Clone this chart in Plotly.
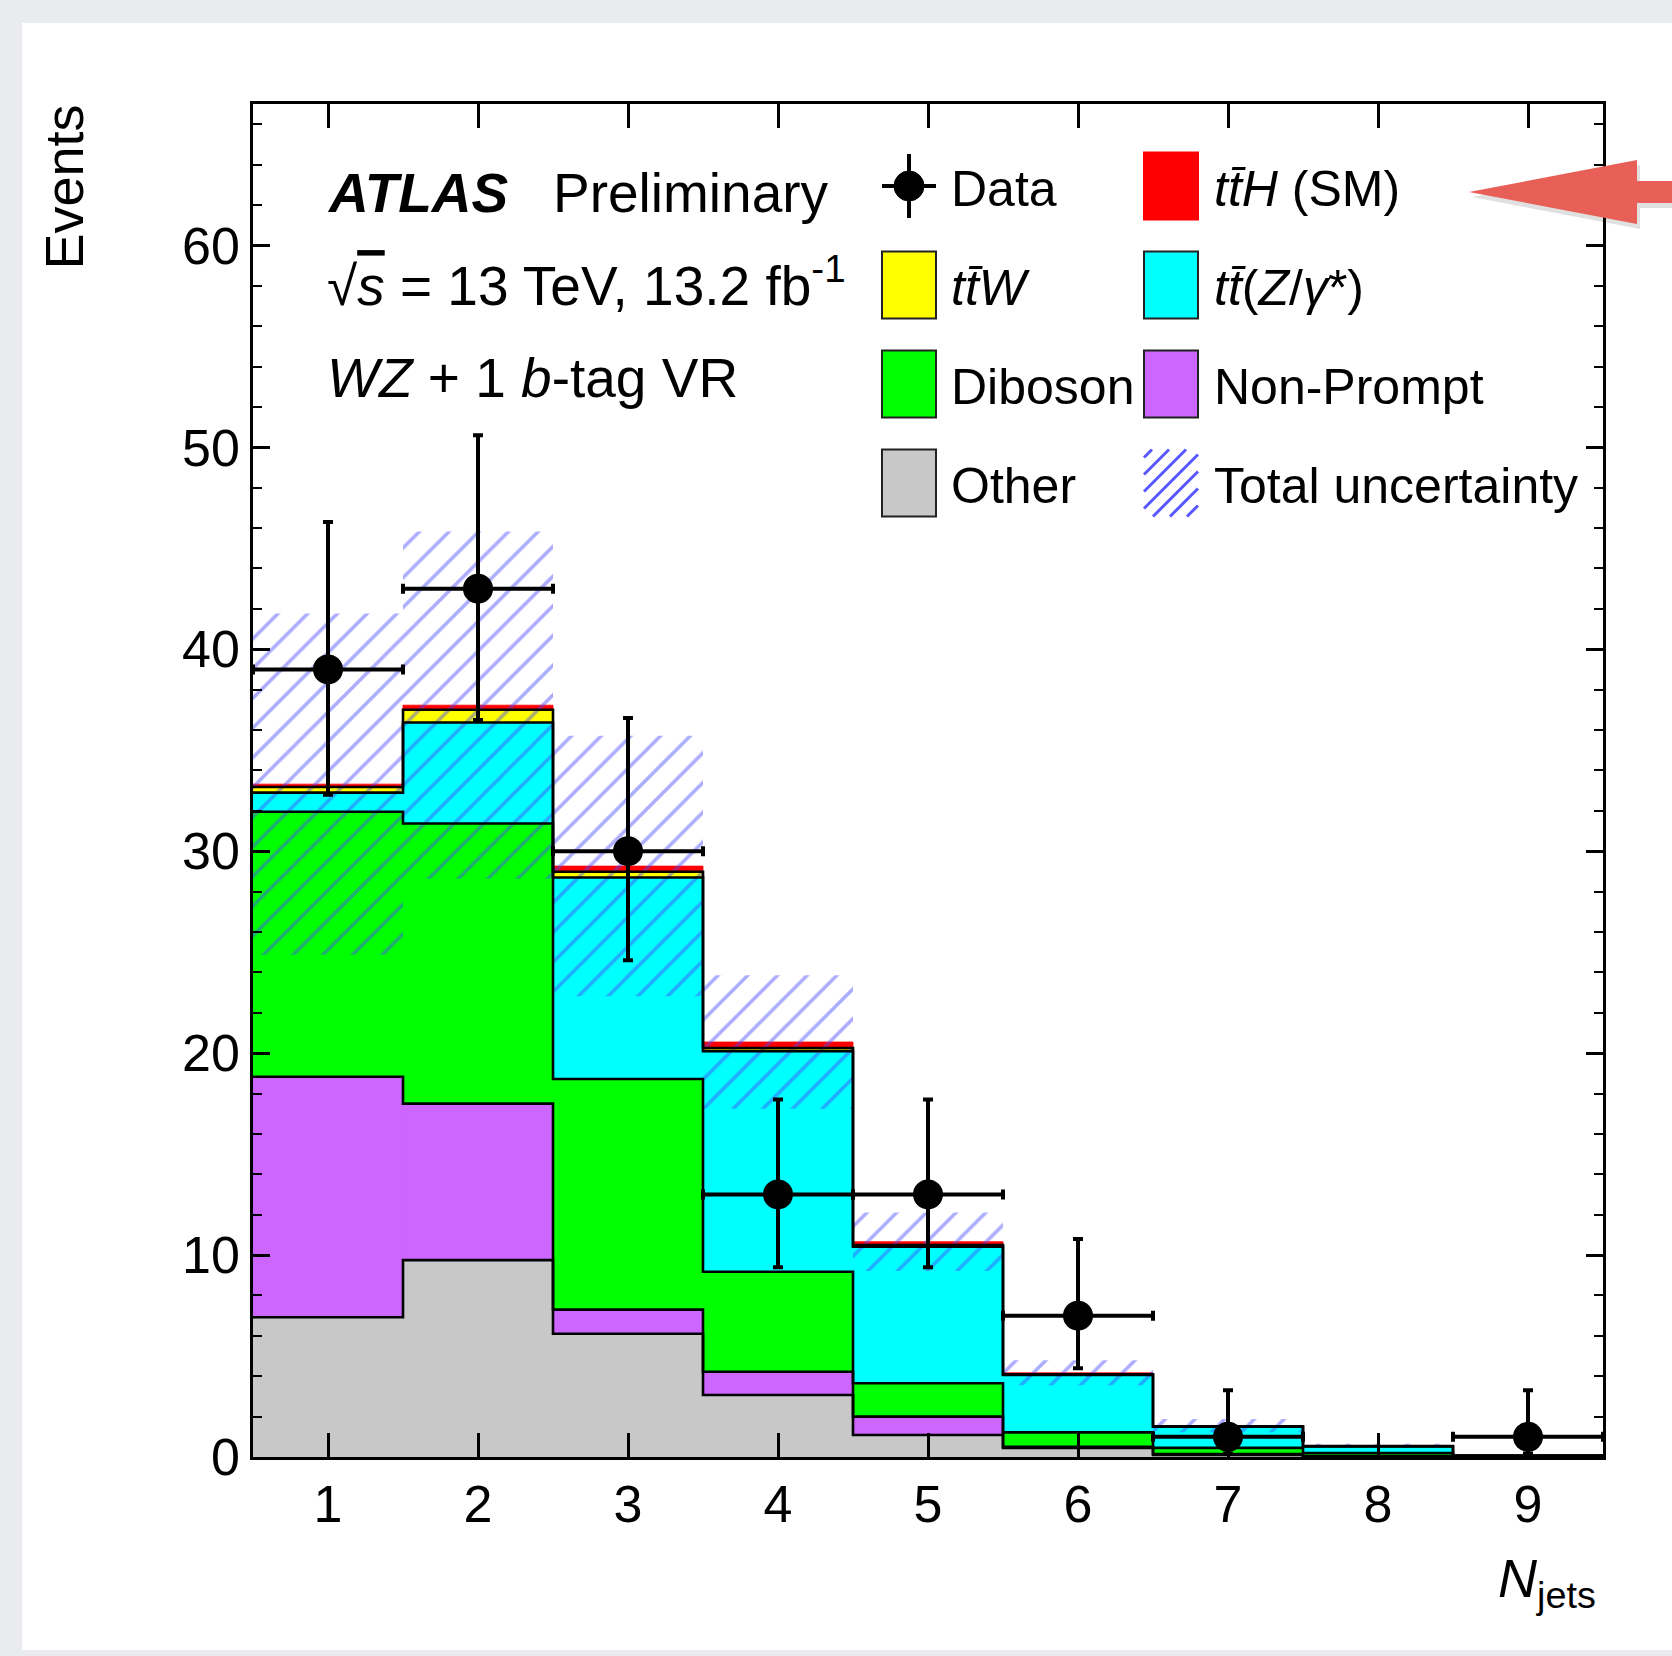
import plotly.graph_objects as go

# ---------------- data ----------------
n_jets = [1, 2, 3, 4, 5, 6, 7, 8, 9]

other = [6.92, 9.75, 6.10, 3.07, 1.09, 0.45, 0.10, 0.02, 0.01]
non_prompt = [11.91, 7.75, 1.20, 1.15, 0.91, 0.06, 0.05, 0.02, 0.00]
diboson = [13.12, 13.87, 11.42, 4.95, 1.65, 0.71, 0.30, 0.15, 0.02]
ttz = [0.95, 5.00, 9.98, 10.93, 6.76, 2.84, 1.05, 0.33, 0.04]
ttw = [0.28, 0.63, 0.28, 0.15, 0.08, 0.04, 0.02, 0.02, 0.00]
tth = [0.14, 0.23, 0.28, 0.30, 0.17, 0.07, 0.03, 0.02, 0.01]

total_unc = [8.45, 8.60, 6.45, 3.30, 1.45, 0.62, 0.33, 0.09, 0.04]

data = [39, 43, 30, 13, 13, 7, 1, 0, 1]
data_err_up = [7.3, 7.6, 6.6, 4.7, 4.7, 3.8, 2.3, 0.0, 2.3]
data_err_down = [6.2, 6.5, 5.4, 3.6, 3.6, 2.6, 0.83, 0.0, 0.83]

y_ticks = [0, 10, 20, 30, 40, 50, 60]

# ---------------- geometry (pixels) ----------------
W, H = 1672, 1656
X0, X1 = 253, 1603      # plot area left / right
Y0, Y1 = 104, 1457      # plot area top / bottom

FONT = "Liberation Sans, Arial, Helvetica, sans-serif"
HATCH = "rgba(70,70,255,0.9)"


def px(x):
    return (x - X0) / (X1 - X0)


def py(y):
    return (Y1 - y) / (Y1 - Y0)


layers = [
    ("Other", other, "#c8c8c8"),
    ("Non-Prompt", non_prompt, "#cc66ff"),
    ("Diboson", diboson, "#00ff00"),
    ("ttZ", ttz, "#00ffff"),
    ("ttW", ttw, "#ffff00"),
    ("ttH", tth, "#ff0000"),
]

fig = go.Figure()

# stacked fills
base = [0.0] * len(n_jets)
tops = []
for name, vals, col in layers:
    fig.add_trace(go.Bar(
        x=n_jets, y=vals, base=list(base), width=1,
        marker=dict(color=col, line=dict(width=0.8, color=col)),
        name=name, showlegend=False, hoverinfo="skip",
    ))
    base = [b + v for b, v in zip(base, vals)]
    tops.append(list(base))
total = base

# step outlines of each cumulative layer
edges = [b - 0.5 for b in n_jets] + [n_jets[-1] + 0.5]
for top in tops[:-1]:
    fig.add_trace(go.Scatter(
        x=edges, y=top + [top[-1]], mode="lines",
        line=dict(color="black", width=2.6, shape="hv"),
        showlegend=False, hoverinfo="skip",
    ))

# total uncertainty hatch
fig.add_trace(go.Bar(
    x=n_jets,
    y=[2 * u for u in total_unc],
    base=[t - u for t, u in zip(total, total_unc)],
    width=1,
    marker=dict(
        color="rgba(0,0,0,0)", line=dict(width=0),
        pattern=dict(shape="/", fgcolor=HATCH, bgcolor="rgba(0,0,0,0)",
                     size=21, solidity=0.17, fillmode="overlay"),
    ),
    showlegend=False, hoverinfo="skip",
))

# data points (empty bins are not drawn)
sel = [i for i, d in enumerate(data) if d > 0]
fig.add_trace(go.Scatter(
    x=[n_jets[i] for i in sel],
    y=[data[i] for i in sel],
    mode="markers",
    marker=dict(color="black", size=30),
    error_y=dict(type="data", symmetric=False,
                 array=[data_err_up[i] for i in sel],
                 arrayminus=[data_err_down[i] for i in sel],
                 color="black", thickness=4, width=5),
    error_x=dict(type="data", array=[0.5] * len(sel), color="black", thickness=4, width=5),
    showlegend=False, hoverinfo="skip", cliponaxis=False,
))

shapes = []
annotations = []

# white card on the light gray page
shapes.append(dict(type="rect", xref="paper", yref="paper", layer="below",
                   x0=px(22), x1=px(W + 20), y0=py(1650), y1=py(23),
                   fillcolor="white", line=dict(width=0)))


def text(x, baseline, s, size, anchor="left"):
    annotations.append(dict(
        xref="paper", yref="paper", x=px(x), y=py(baseline + 0.212 * size + 1),
        xanchor=anchor, yanchor="bottom", text=s, showarrow=False,
        font=dict(family=FONT, size=size, color="black"),
    ))


# labels in the upper-left corner
text(325, 213, "<b><i>ATLAS</i></b>", 55)
text(551, 213, "Preliminary", 55)
text(325, 306, "√<span style='text-decoration:overline'><i>s</i></span> = 13 TeV, 13.2 fb<sup>-1</sup>", 55)
text(325, 398, "<i>WZ</i> + 1 <i>b</i>-tag VR", 55)

# legend
TB = "t\u0304"
col_box = [882, 1144]
col_txt = [949, 1212]
row_c = [186, 285, 384, 483]
BW, BH = 54, 67
leg = [
    (0, 0, "data", None, "Data"),
    (1, 0, "box", "#ff0000", f"<i>t{TB}H</i> (SM)"),
    (0, 1, "box", "#ffff00", f"<i>t{TB}W</i>"),
    (1, 1, "box", "#00ffff", f"<i>t{TB}</i>(<i>Z</i>/<i>γ</i>*)"),
    (0, 2, "box", "#00ff00", "Diboson"),
    (1, 2, "box", "#cc66ff", "Non-Prompt"),
    (0, 3, "box", "#c8c8c8", "Other"),
    (1, 3, "hatch", None, "Total uncertainty"),
]
for c, r, kind, col, lab in leg:
    bx0 = col_box[c]
    bx1 = bx0 + BW
    cy = row_c[r]
    by0, by1 = cy - BH / 2, cy + BH / 2
    if kind == "box":
        lc = "#ff0000" if col == "#ff0000" else "#222222"
        shapes.append(dict(type="rect", xref="paper", yref="paper",
                           x0=px(bx0), x1=px(bx1), y0=py(by1), y1=py(by0),
                           fillcolor=col, line=dict(color=lc, width=2)))
    elif kind == "data":
        xm = (bx0 + bx1) / 2
        shapes.append(dict(type="line", xref="paper", yref="paper",
                           x0=px(bx0), x1=px(bx1), y0=py(cy), y1=py(cy),
                           line=dict(color="black", width=4)))
        shapes.append(dict(type="line", xref="paper", yref="paper",
                           x0=px(xm), x1=px(xm), y0=py(cy - 32), y1=py(cy + 32),
                           line=dict(color="black", width=4)))
        shapes.append(dict(type="circle", xref="paper", yref="paper",
                           x0=px(xm - 15), x1=px(xm + 15), y0=py(cy + 15), y1=py(cy - 15),
                           fillcolor="black", line=dict(color="black", width=1)))
    else:
        # diagonal hatch lines clipped to the symbol box
        step = 17
        cmin, cmax = bx0 + by0, bx1 + by1
        cc = cmin + 8
        while cc < cmax:
            xa = max(bx0, cc - by1)
            xb = min(bx1, cc - by0)
            if xb > xa:
                shapes.append(dict(type="line", xref="paper", yref="paper",
                                   x0=px(xa), y0=py(cc - xa), x1=px(xb), y1=py(cc - xb),
                                   line=dict(color=HATCH, width=3)))
            cc += step
    text(col_txt[c], cy + 21, lab, 50)

# axis titles
annotations.append(dict(
    xref="paper", yref="paper", x=px(63), y=py(103), xanchor="center", yanchor="top",
    textangle=-90, text="Events", showarrow=False,
    font=dict(family=FONT, size=54, color="black"),
))
annotations.append(dict(
    xref="paper", yref="paper", x=px(1598), y=py(1596 - 0.905 * 54 - 1),
    xanchor="right", yanchor="top", text="<i>N</i><sub>jets</sub>", showarrow=False,
    font=dict(family=FONT, size=54, color="black"),
))


# red pointer arrow at the right edge
def arrow_path(dx=0, dy=0):
    pts = [(1469, 192), (1637, 160), (1637, 181), (1680, 181),
           (1680, 203), (1637, 203), (1637, 224)]
    return "M " + " L ".join(f"{px(x + dx)},{py(y + dy)}" for x, y in pts) + " Z"


shapes.append(dict(type="path", xref="paper", yref="paper", path=arrow_path(3, 5),
                   fillcolor="rgba(0,0,0,0.12)", line=dict(width=0)))
shapes.append(dict(type="path", xref="paper", yref="paper", path=arrow_path(),
                   fillcolor="#e85f58", line=dict(width=0)))

fig.update_layout(
    width=W, height=H,
    margin=dict(l=X0, r=W - X1, t=Y0, b=H - Y1, pad=0),
    paper_bgcolor="#e9ebee",
    plot_bgcolor="rgba(0,0,0,0)",
    barmode="overlay",
    showlegend=False,
    font=dict(family=FONT, color="black"),
    shapes=shapes,
    annotations=annotations,
)
fig.update_xaxes(
    range=[0.5, 9.5], tickmode="array", tickvals=n_jets, ticktext=[str(v) for v in n_jets],
    ticks="inside", ticklen=24, tickwidth=2.5, tickcolor="black",
    showline=True, linewidth=2.5, linecolor="black", mirror="allticks",
    showgrid=False, zeroline=False, tickfont=dict(size=52, family=FONT),
)
fig.update_yaxes(
    range=[0, 67], tickmode="array", tickvals=y_ticks, ticktext=[str(v) for v in y_ticks],
    ticks="inside", ticklen=17, tickwidth=2.5, tickcolor="black",
    minor=dict(dtick=2, tick0=0, ticks="inside", ticklen=9, tickwidth=2, tickcolor="black", showgrid=False),
    showline=True, linewidth=2.5, linecolor="black", mirror="allticks",
    showgrid=False, zeroline=False, tickfont=dict(size=52, family=FONT),
)

fig.write_html("out.html")
